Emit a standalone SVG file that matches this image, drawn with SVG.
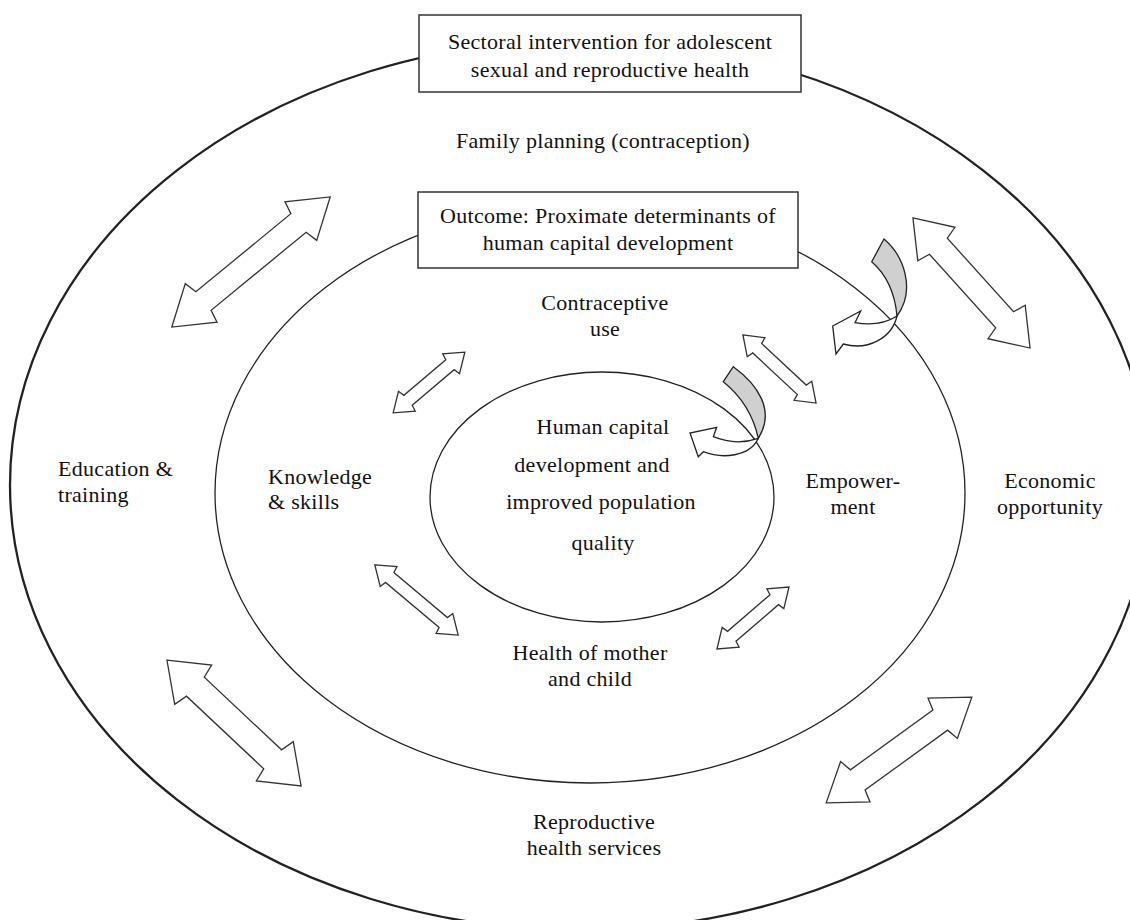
<svg xmlns="http://www.w3.org/2000/svg" width="1130" height="920" viewBox="0 0 1130 920">
<style>
text{font-family:"Liberation Serif","Times New Roman",serif;font-size:22px;letter-spacing:0.3px;fill:#111;}
.c{text-anchor:middle;}
.ring{fill:none;stroke:#222;}
.box{fill:#fff;stroke:#333;stroke-width:1.5;}
.dbl{fill:#fff;stroke:#333;stroke-width:1.3;stroke-linejoin:miter;}
.band{fill:#d0d0d0;stroke:#222;stroke-width:1.3;}
.curv{fill:#fff;stroke:#222;stroke-width:1.3;}
</style>
<rect width="1130" height="920" fill="#fff"/>
<g id="outer-ring"><ellipse class="ring" cx="580" cy="485" rx="570" ry="445" stroke-width="2.3"/></g>
<g id="middle-ring"><ellipse class="ring" cx="590" cy="493" rx="375" ry="290" stroke-width="1.3"/></g>
<g id="inner-ring"><ellipse class="ring" cx="602" cy="497" rx="172" ry="125" stroke-width="1.3"/></g>

<g id="connectors">
  <path class="dbl" transform="translate(251,262) rotate(-39.4)" d="M-102.5,0 L-64.5,-25 L-61.5,-12 L61.5,-12 L64.5,-25 L102.5,0 L64.5,25 L61.5,12 L-61.5,12 L-64.5,25 Z"/>
  <path class="dbl" transform="translate(971.5,283) rotate(48)" d="M-87.5,0 L-52.5,-25 L-49.5,-12 L49.5,-12 L52.5,-25 L87.5,0 L52.5,25 L49.5,12 L-49.5,12 L-52.5,25 Z"/>
  <path class="dbl" transform="translate(234,723) rotate(43.2)" d="M-92,0 L-56,-27 L-53,-13 L53,-13 L56,-27 L92,0 L56,27 L53,13 L-53,13 L-56,27 Z"/>
  <path class="dbl" transform="translate(899,750) rotate(-36)" d="M-90,0 L-54,-25 L-51,-12.5 L51,-12.5 L54,-25 L90,0 L54,25 L51,12.5 L-51,12.5 L-54,25 Z"/>
  <path class="dbl" transform="translate(429,382.5) rotate(-40.3)" d="M-47,0 L-29,-13 L-27.5,-6.5 L27.5,-6.5 L29,-13 L47,0 L29,13 L27.5,6.5 L-27.5,6.5 L-29,13 Z"/>
  <path class="dbl" transform="translate(779.5,369) rotate(43)" d="M-50,0 L-32,-13 L-30.5,-6.5 L30.5,-6.5 L32,-13 L50,0 L32,13 L30.5,6.5 L-30.5,6.5 L-32,13 Z"/>
  <path class="dbl" transform="translate(416.5,600) rotate(40.1)" d="M-54.5,0 L-36.5,-13 L-35,-6.5 L35,-6.5 L36.5,-13 L54.5,0 L36.5,13 L35,6.5 L-35,6.5 L-36.5,13 Z"/>
  <path class="dbl" transform="translate(753,618) rotate(-40.7)" d="M-47.5,0 L-29.5,-13 L-28,-6.5 L28,-6.5 L29.5,-13 L47.5,0 L29.5,13 L28,6.5 L-28,6.5 L-29.5,13 Z"/>
  <path class="curv" d="M897,316 Q880,327 855,322.7 L860.7,311 L832.7,326 L836,354 L843.3,344 C868,351 892,338 897,316 Z"/>
  <path class="band" d="M871.7,261.7 L884,239 C904,256 916,290 897,316 C895,294 887,275 871.7,261.7 Z"/>
  <path class="curv" d="M758.3,438.3 Q736,446 713.3,436.7 L716.7,427.3 L690,433 L698.3,456.7 L703.3,451.7 C722,459 750,457 758.3,438.3 Z"/>
  <path class="band" d="M723.3,381.7 L733.3,366.7 C757,384 776,410 758.3,438.3 C753,414 741,396 723.3,381.7 Z"/>
</g>

<g id="sectoral-box">
  <rect class="box" x="419" y="15" width="382" height="77"/>
  <text class="c" x="610" y="49">Sectoral intervention for adolescent</text>
  <text class="c" x="610" y="77">sexual and reproductive health</text>
</g>
<g id="family-planning"><text class="c" x="603" y="148">Family planning (contraception)</text></g>
<g id="outcome-box">
  <rect class="box" x="418" y="192" width="380" height="76"/>
  <text class="c" x="608" y="223">Outcome: Proximate determinants of</text>
  <text class="c" x="608" y="250">human capital development</text>
</g>
<g id="contraceptive-use">
  <text class="c" x="605" y="310">Contraceptive</text>
  <text class="c" x="605" y="336">use</text>
</g>
<g id="human-capital">
  <text class="c" x="603" y="434">Human capital</text>
  <text class="c" x="592" y="472">development and</text>
  <text class="c" x="601" y="509">improved population</text>
  <text class="c" x="603" y="550">quality</text>
</g>
<g id="knowledge"><text x="268" y="484">Knowledge</text><text x="268" y="509">&amp; skills</text></g>
<g id="education"><text x="58" y="476">Education &amp;</text><text x="58" y="502">training</text></g>
<g id="empowerment"><text class="c" x="853" y="488">Empower-</text><text class="c" x="853" y="514">ment</text></g>
<g id="economic"><text class="c" x="1050" y="488">Economic</text><text class="c" x="1050" y="514">opportunity</text></g>
<g id="health"><text class="c" x="590" y="660">Health of mother</text><text class="c" x="590" y="686">and child</text></g>
<g id="reproductive"><text class="c" x="594" y="829">Reproductive</text><text class="c" x="594" y="855">health services</text></g>
</svg>
